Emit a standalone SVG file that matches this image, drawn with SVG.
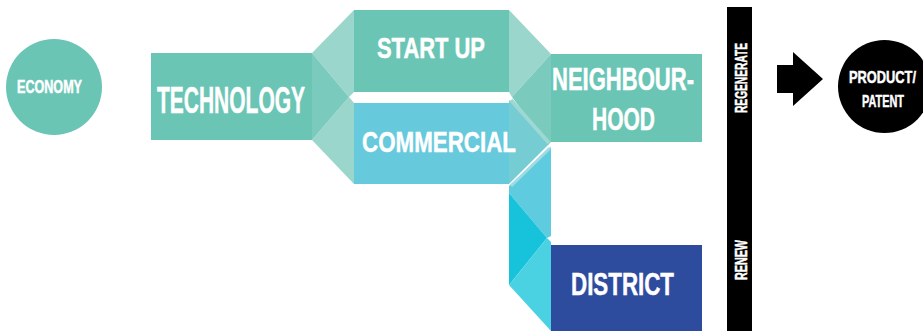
<svg xmlns="http://www.w3.org/2000/svg" width="923" height="331" viewBox="0 0 923 331">
<style>
.t{font-family:"Liberation Sans",Arial,sans-serif;font-weight:bold;fill:#fff;stroke:#fff;stroke-width:0.5}
.teal{fill:#6AC5B5}
.light{fill:#9AD6CB}
.mid{fill:#7ACBBD}
</style>
<rect width="923" height="331" fill="#fff"/>
<g id="connectors">
  <!-- technology to start up / commercial -->
  <polygon class="light" points="312,53 354,10 354,92 349,97"/>
  <polygon class="light" points="312,140 354,184 354,103 349,97"/>
  <polygon class="mid" points="312,53 349,97 312,140"/>
  <!-- start up to neighbourhood -->
  <polygon class="light" points="509,10 551,54 512,97 509,92"/>
  <polygon fill="#75CDD3" points="509,100 549,144 509,184"/>
  <polygon class="mid" points="551,54 551,142 548,145 512,97"/>
  <line x1="511" y1="100" x2="549" y2="143" stroke="#9ED8D2" stroke-width="4"/>
  <!-- commercial down to district -->
  <polygon fill="#5ECCDE" points="509,186 551,147 551,236 547,238 509,193"/>
  <polygon fill="#17C3DB" points="509,193 547,238 509,285"/>
  <polygon fill="#4BD2E2" points="509,285 547,238 551,242 551,331"/>
  <line x1="550" y1="148" x2="511" y2="186" stroke="#9FDBE5" stroke-width="3"/>
  <!-- arrow -->
  <polygon fill="#000" points="777,65 793,65 793,52 823,79 793,106 793,93 777,93"/>
</g>
<g id="economy">
  <circle class="teal" cx="54" cy="87" r="48"/>
  <text class="t" x="17" y="93" font-size="18" textLength="65" lengthAdjust="spacingAndGlyphs">ECONOMY</text>
</g>
<g id="technology">
  <rect class="teal" x="151" y="53" width="161" height="87"/>
  <text class="t" x="157" y="113" font-size="37" textLength="148" lengthAdjust="spacingAndGlyphs">TECHNOLOGY</text>
</g>
<g id="startup">
  <rect class="teal" x="354" y="10" width="155" height="82"/>
  <text class="t" x="377" y="58" font-size="29" textLength="108" lengthAdjust="spacingAndGlyphs">START UP</text>
</g>
<g id="commercial">
  <rect fill="#66C9DC" x="354" y="103" width="155" height="81"/>
  <text class="t" x="362" y="152" font-size="30" textLength="154" lengthAdjust="spacingAndGlyphs">COMMERCIAL</text>
</g>
<g id="neighbourhood">
  <rect class="teal" x="551" y="54" width="151" height="88"/>
  <text class="t" x="552" y="90" font-size="31" textLength="142" lengthAdjust="spacingAndGlyphs">NEIGHBOUR-</text>
  <text class="t" x="592" y="130" font-size="32" textLength="63" lengthAdjust="spacingAndGlyphs">HOOD</text>
</g>
<g id="district">
  <rect fill="#2E4C9E" x="551" y="245" width="151" height="86"/>
  <text class="t" x="571" y="295" font-size="32" textLength="103" lengthAdjust="spacingAndGlyphs">DISTRICT</text>
</g>
<g id="bar">
  <rect fill="#000" x="727" y="7" width="25" height="324"/>
  <text class="t" transform="translate(747,113) rotate(-90)" x="0" y="0" font-size="16" textLength="70" lengthAdjust="spacingAndGlyphs">REGENERATE</text>
  <text class="t" transform="translate(747,280) rotate(-90)" x="0" y="0" font-size="16" textLength="40" lengthAdjust="spacingAndGlyphs">RENEW</text>
</g>
<g id="product">
  <circle fill="#000" cx="884.5" cy="86.5" r="46.5"/>
  <text class="t" x="849" y="83" font-size="17" textLength="67" lengthAdjust="spacingAndGlyphs">PRODUCT/</text>
  <text class="t" x="862" y="107" font-size="17" textLength="42" lengthAdjust="spacingAndGlyphs">PATENT</text>
</g>
</svg>
